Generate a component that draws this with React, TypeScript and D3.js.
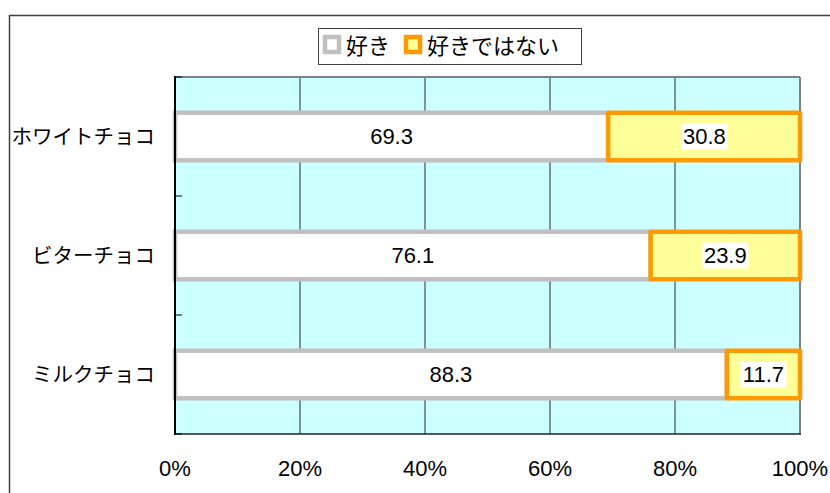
import React from "react";
import * as d3 from "d3";

const categories = ["ホワイトチョコ", "ビターチョコ", "ミルクチョコ"];
const likeValues = [69.3, 76.1, 88.3];
const dislikeValues = [30.8, 23.9, 11.7];
const seriesNames = ["好き", "好きではない"];
const xTicks = [0, 20, 40, 60, 80, 100];

const W = 830;
const H = 493;
const plot = { left: 175, right: 800, top: 77, bottom: 434 };

const jp = "'Noto Sans CJK JP', 'Noto Sans', sans-serif";
const num = "'Liberation Sans', Arial, sans-serif";
const narrow = "'Liberation Sans Narrow', 'Liberation Sans', Arial, sans-serif";

export default function App() {
  const x = d3.scaleLinear().domain([0, 100]).range([plot.left, plot.right]);
  const y = d3
    .scaleBand<string>()
    .domain(categories)
    .range([plot.top, plot.bottom])
    .paddingInner(0.6)
    .paddingOuter(0.3);
  const bh = y.bandwidth();
  const step = y.step();
  const boundaries = d3.range(categories.length + 1).map((i) => plot.top + i * step);

  return (
    <svg width={W} height={H} style={{ position: "absolute", left: 0, top: 0 }}>
      <rect x={0} y={0} width={W} height={H} fill="#ffffff" />
      {/* outer chart border */}
      <rect x={9.5} y={15.5} width={W + 20} height={H + 20} fill="none" stroke="#404040" strokeWidth={1.5} />

      {/* plot area */}
      <rect x={plot.left} y={plot.top} width={plot.right - plot.left} height={plot.bottom - plot.top} fill="#ccffff" />
      {/* gridlines */}
      {xTicks.slice(1, -1).map((t) => (
        <line key={t} x1={x(t)} x2={x(t)} y1={plot.top} y2={plot.bottom} stroke="#2a2a2a" strokeWidth={1} />
      ))}
      {/* top & right border */}
      <line x1={plot.left} x2={plot.right} y1={plot.top} y2={plot.top} stroke="#808080" strokeWidth={2} />
      <line x1={plot.right} x2={plot.right} y1={plot.top} y2={plot.bottom} stroke="#808080" strokeWidth={2} />

      {/* bars */}
      {categories.map((c, i) => {
        const y0 = y(c)!;
        const a = likeValues[i];
        const b = dislikeValues[i];
        const bEnd = Math.min(100, a + b);
        return (
          <g key={c}>
            <rect x={x(0)} y={y0} width={x(a) - x(0)} height={bh} fill="#ffffff" stroke="#c0c0c0" strokeWidth={4.5} />
            <rect x={x(a)} y={y0} width={x(bEnd) - x(a)} height={bh} fill="#ffff99" stroke="#ff9900" strokeWidth={4.5} strokeLinejoin="round" />
          </g>
        );
      })}

      {/* axes */}
      <line x1={plot.left} x2={plot.left} y1={plot.top - 1} y2={plot.bottom + 1} stroke="#000000" strokeWidth={2} />
      <line x1={plot.left - 1} x2={plot.right + 1} y1={plot.bottom} y2={plot.bottom} stroke="#222222" strokeWidth={1.5} />
      {boundaries.map((b, i) => (
        <line key={i} x1={plot.left} x2={plot.left + 7} y1={b} y2={b} stroke="#000000" strokeWidth={1} />
      ))}

      {/* data labels */}
      {categories.map((c, i) => {
        const cy = y(c)! + bh / 2;
        const a = likeValues[i];
        const b = dislikeValues[i];
        const cxA = x(a / 2);
        const cxB = x(a + b / 2);
        const tA = a.toFixed(1);
        const tB = b.toFixed(1);
        const wB = tB.length * 11 + 2;
        return (
          <g key={c}>
            <text x={cxA} y={cy} dy="0.36em" textAnchor="middle" fontFamily={num} fontSize={22} fill="#000">
              {tA}
            </text>
            <rect x={cxB - wB / 2} y={cy - 13} width={wB} height={26} fill="#ffffff" />
            <text x={cxB} y={cy} dy="0.36em" textAnchor="middle" fontFamily={num} fontSize={22} fill="#000">
              {tB}
            </text>
          </g>
        );
      })}

      {/* category labels */}
      {categories.map((c) => (
        <text key={c} x={155} y={y(c)! + bh / 2} dy="0.36em" textAnchor="end" fontFamily={jp} fontSize={20.5} fill="#000">
          {c}
        </text>
      ))}

      {/* x tick labels */}
      {xTicks.map((t) => (
        <text key={t} x={x(t)} y={468} dy="0.36em" textAnchor="middle" fontFamily={narrow} fontSize={22} fill="#000">
          {t + "%"}
        </text>
      ))}

      {/* legend */}
      <rect x={318.5} y={28.5} width={263} height={36} fill="#ffffff" stroke="#404040" strokeWidth={1} />
      <rect x={325} y={37} width={14} height={15} fill="#ffffff" stroke="#c0c0c0" strokeWidth={4.5} />
      <text x={346} y={46.5} dy="0.36em" fontFamily={jp} fontSize={22} fill="#000">
        {seriesNames[0]}
      </text>
      <rect x={406} y={37} width={14} height={15} fill="#ffff99" stroke="#ff9900" strokeWidth={4.5} />
      <text x={427} y={46.5} dy="0.36em" fontFamily={jp} fontSize={22} fill="#000">
        {seriesNames[1]}
      </text>
    </svg>
  );
}
